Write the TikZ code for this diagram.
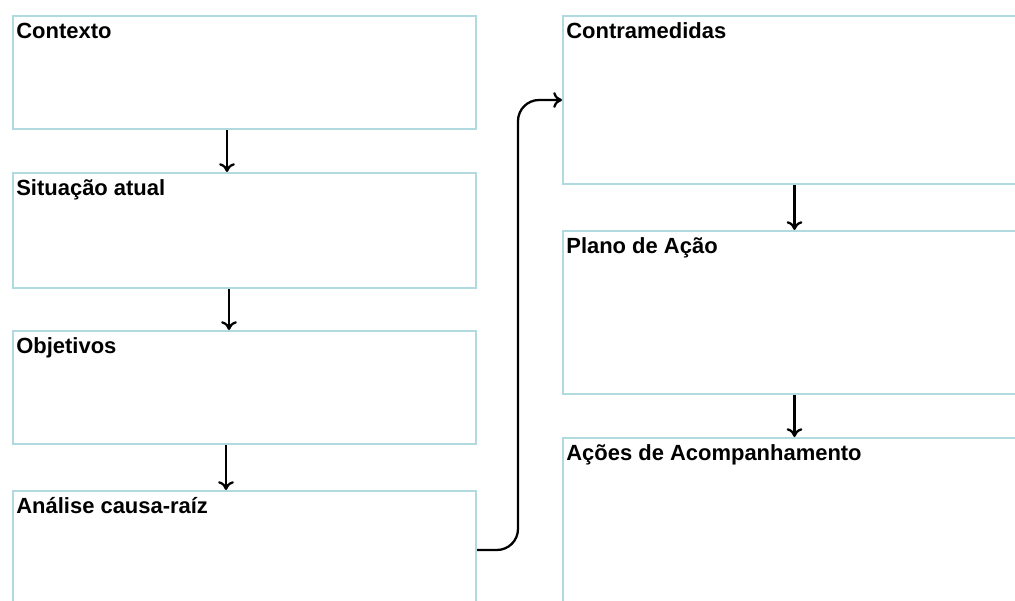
\documentclass[tikz,border=0pt]{standalone}
\usepackage{fontspec}
\setmainfont{Liberation Sans}
\usepackage{tikz}
\usetikzlibrary{arrows.meta}

\definecolor{boxline}{RGB}{176,218,224}

\tikzset{
  caixa/.style={draw=boxline,line width=1.2pt,anchor=north west,inner sep=0pt,minimum width=9.26cm},
  titulo/.style={anchor=base west,inner sep=0pt,font=\fontsize{12.5}{15}\selectfont\bfseries},
  seta/.style={-{To[length=5pt,width=9pt]},line width=1.3pt,black}
}

\begin{document}
\begin{tikzpicture}[x=0.02cm,y=-0.02cm]

\useasboundingbox (0,0) rectangle (1015,601);
\clip (0,0) rectangle (1015,601);

% coluna esquerda
\node[caixa,minimum height=2.26cm] (ctx) at (12,15) {};
\node[caixa,minimum height=2.30cm] (sit) at (12,172) {};
\node[caixa,minimum height=2.26cm] (obj) at (12,330) {};
\node[caixa,minimum height=3.00cm] (acr) at (12,490) {};

% coluna direita
\node[caixa,minimum height=3.36cm] (ctm) at (562,15) {};
\node[caixa,minimum height=3.26cm] (pla) at (562,230) {};
\node[caixa,minimum height=4.00cm] (aco) at (562,437) {};

\node[titulo] (ctx-t) at ([xshift=0.08cm,yshift=-0.48cm]ctx.north west) {Contexto};
\node[titulo] (sit-t) at ([xshift=0.08cm,yshift=-0.48cm]sit.north west) {Situação atual};
\node[titulo] (obj-t) at ([xshift=0.08cm,yshift=-0.48cm]obj.north west) {Objetivos};
\node[titulo] (acr-t) at ([xshift=0.08cm,yshift=-0.48cm]acr.north west) {Análise causa-raíz};
\node[titulo] (ctm-t) at ([xshift=0.08cm,yshift=-0.48cm]ctm.north west) {Contramedidas};
\node[titulo] (pla-t) at ([xshift=0.08cm,yshift=-0.48cm]pla.north west) {Plano de Ação};
\node[titulo] (aco-t) at ([xshift=0.08cm,yshift=-0.48cm]aco.north west) {Ações de Acompanhamento};

\draw[seta] ([xshift=-0.35cm]ctx.south) -- ([xshift=-0.35cm]sit.north);
\draw[seta] ([xshift=-0.31cm]sit.south) -- ([xshift=-0.31cm]obj.north);
\draw[seta] ([xshift=-0.37cm]obj.south) -- ([xshift=-0.37cm]acr.north);
\draw[seta] (ctm.south) -- (pla.north);
\draw[seta] (pla.south) -- (aco.north);

\coordinate (sai) at (acr.north east |- 0,550);
\coordinate (entra) at (ctm.north west |- 0,100);
\draw[seta,rounded corners=12] (sai) -- (518,550) -- (518,100) -- (entra);

\end{tikzpicture}
\end{document}
